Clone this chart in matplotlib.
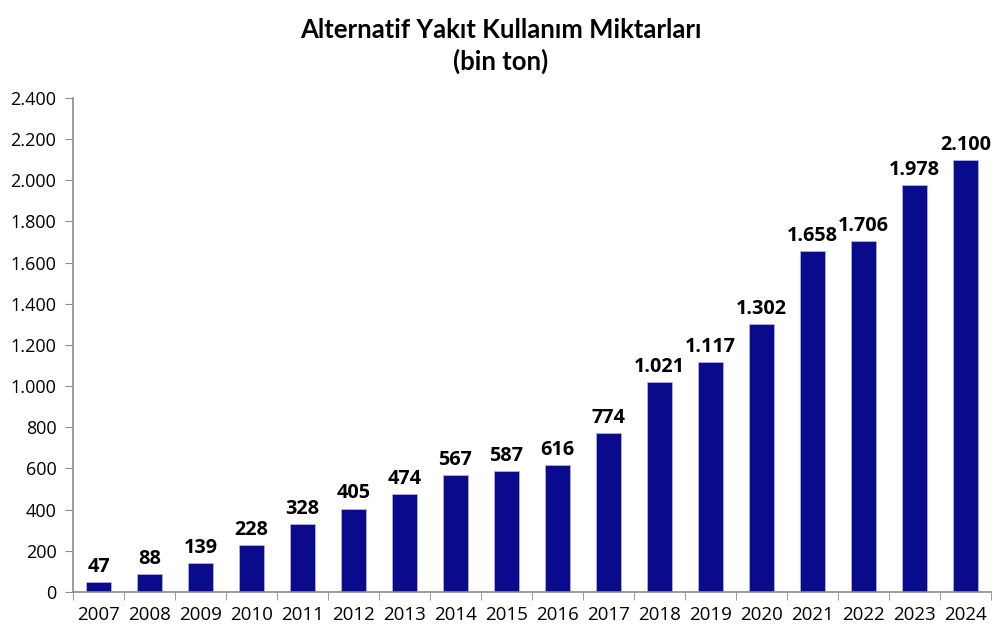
import matplotlib
matplotlib.use("Agg")
import matplotlib.pyplot as plt
from matplotlib.ticker import FuncFormatter, FixedLocator

years = [str(y) for y in range(2007, 2025)]
values = [47, 88, 139, 228, 328, 405, 474, 567, 587, 616, 774,
          1021, 1117, 1302, 1658, 1706, 1978, 2100]
yticks = list(range(0, 2401, 200))
title = "Alternatif Yakıt Kullanım Miktarları\n(bin ton)"

BAR = "#0a0a8c"
GREY = "#8c8c8c"


def tr_num(v, pos=None):
    return f"{int(v):,}".replace(",", ".")


plt.rcParams["font.family"] = ["Open Sans", "DejaVu Sans"]
fig = plt.figure(figsize=(10.02, 6.4), dpi=100)
ax = fig.add_axes([0.0729, 0.075, 0.916, 0.772])

x = range(len(years))
ax.bar(x, values, width=0.5, color=BAR, edgecolor="#b8b8e0", linewidth=0.5)
for i, v in zip(x, values):
    ax.text(i, v + 25, tr_num(v), ha="center", va="bottom",
            fontsize=14.3, fontweight="bold", color="black")

ax.set_xlim(-0.5, len(years) - 0.5)
ax.set_ylim(0, 2400)
ax.set_yticks(yticks)
ax.yaxis.set_major_formatter(FuncFormatter(tr_num))
ax.set_xticks(list(x))
ax.set_xticklabels(years)
ax.xaxis.set_minor_locator(FixedLocator([i - 0.5 for i in range(len(years) + 1)]))
ax.tick_params(axis="x", which="major", length=0, pad=10, labelsize=13.5)
ax.tick_params(axis="x", which="minor", length=6, color=GREY, direction="out")
ax.tick_params(axis="y", length=6, color=GREY, labelsize=13, pad=6)

for side in ("top", "right"):
    ax.spines[side].set_visible(False)
for side in ("left", "bottom"):
    ax.spines[side].set_color(GREY)
    ax.spines[side].set_linewidth(1.2)

fig.text(0.5, 0.972, title, ha="center", va="top", fontsize=18.5,
         fontweight="bold", family=["Lato", "DejaVu Sans"], linespacing=1.3)

fig.savefig("out.png", dpi=100)
